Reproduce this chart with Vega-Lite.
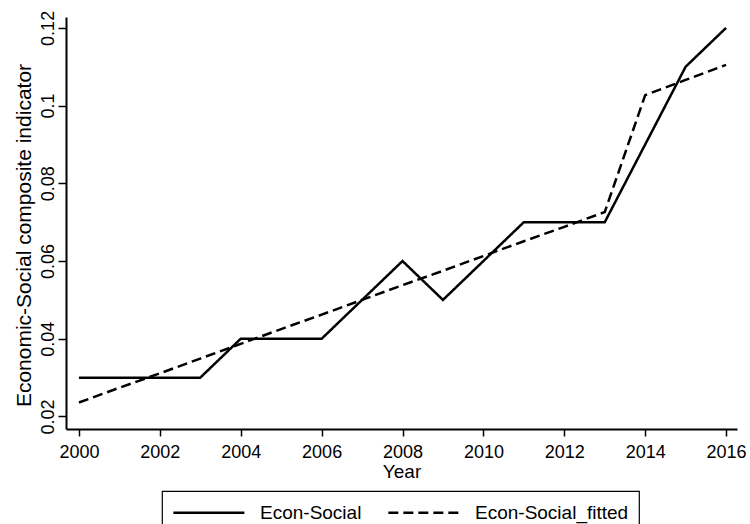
{
  "$schema": "https://vega.github.io/schema/vega-lite/v6.json",
  "width": 671,
  "height": 412,
  "autosize": "none",
  "padding": {"left": 66, "top": 17, "right": 13, "bottom": 95},
  "background": "white",
  "data": {
    "values": [
      {"series": "Econ-Social", "year": 2000, "value": 0.03},
      {"series": "Econ-Social", "year": 2001, "value": 0.03},
      {"series": "Econ-Social", "year": 2002, "value": 0.03},
      {"series": "Econ-Social", "year": 2003, "value": 0.03},
      {"series": "Econ-Social", "year": 2004, "value": 0.04},
      {"series": "Econ-Social", "year": 2005, "value": 0.04},
      {"series": "Econ-Social", "year": 2006, "value": 0.04},
      {"series": "Econ-Social", "year": 2007, "value": 0.05},
      {"series": "Econ-Social", "year": 2008, "value": 0.06},
      {"series": "Econ-Social", "year": 2009, "value": 0.05},
      {"series": "Econ-Social", "year": 2010, "value": 0.06},
      {"series": "Econ-Social", "year": 2011, "value": 0.07},
      {"series": "Econ-Social", "year": 2012, "value": 0.07},
      {"series": "Econ-Social", "year": 2013, "value": 0.07},
      {"series": "Econ-Social", "year": 2014, "value": 0.09},
      {"series": "Econ-Social", "year": 2015, "value": 0.11},
      {"series": "Econ-Social", "year": 2016, "value": 0.12},
      {"series": "Econ-Social_fitted", "year": 2000, "value": 0.0236},
      {"series": "Econ-Social_fitted", "year": 2001, "value": 0.0274},
      {"series": "Econ-Social_fitted", "year": 2002, "value": 0.0311},
      {"series": "Econ-Social_fitted", "year": 2003, "value": 0.0349},
      {"series": "Econ-Social_fitted", "year": 2004, "value": 0.0387},
      {"series": "Econ-Social_fitted", "year": 2005, "value": 0.0425},
      {"series": "Econ-Social_fitted", "year": 2006, "value": 0.0462},
      {"series": "Econ-Social_fitted", "year": 2007, "value": 0.05},
      {"series": "Econ-Social_fitted", "year": 2008, "value": 0.0538},
      {"series": "Econ-Social_fitted", "year": 2009, "value": 0.0575},
      {"series": "Econ-Social_fitted", "year": 2010, "value": 0.0613},
      {"series": "Econ-Social_fitted", "year": 2011, "value": 0.0651},
      {"series": "Econ-Social_fitted", "year": 2012, "value": 0.0688},
      {"series": "Econ-Social_fitted", "year": 2013, "value": 0.0726},
      {"series": "Econ-Social_fitted", "year": 2014, "value": 0.1027},
      {"series": "Econ-Social_fitted", "year": 2015, "value": 0.1066},
      {"series": "Econ-Social_fitted", "year": 2016, "value": 0.1105}
    ]
  },
  "mark": {"type": "line", "strokeWidth": 2.5, "clip": false},
  "encoding": {
    "x": {
      "field": "year",
      "type": "quantitative",
      "scale": {"domain": [1999.68, 2016.27], "nice": false, "zero": false},
      "axis": {
        "values": [2000, 2002, 2004, 2006, 2008, 2010, 2012, 2014, 2016],
        "format": "d",
        "tickSize": 7,
        "labelPadding": 7,
        "labelFontSize": 18,
        "labelFlush": false,
        "title": "Year",
        "titleFontSize": 19,
        "titleY": 48,
        "titleBaseline": "alphabetic"
      }
    },
    "y": {
      "field": "value",
      "type": "quantitative",
      "scale": {"domain": [0.01678, 0.1228], "nice": false, "zero": false},
      "axis": {
        "values": [0.02, 0.04, 0.06, 0.08, 0.1, 0.12],
        "format": "~g",
        "labelAngle": -90,
        "labelAlign": "center",
        "labelBaseline": "alphabetic",
        "tickSize": 8,
        "labelPadding": 5,
        "labelFontSize": 18,
        "title": "Economic-Social composite indicator",
        "titleFontSize": 21,
        "titleAngle": -90,
        "titleX": -36,
        "titleY": 218,
        "titleAlign": "center",
        "titleBaseline": "alphabetic"
      }
    },
    "color": {
      "field": "series",
      "type": "nominal",
      "scale": {"range": ["black", "black"]},
      "legend": {
        "title": null,
        "orient": "none",
        "legendX": 96,
        "legendY": 474,
        "direction": "horizontal",
        "columns": 2,
        "symbolType": "M-1,0H6",
        "symbolSize": 412,
        "symbolStrokeWidth": 2.5,
        "labelFontSize": 19,
        "labelOffset": 65,
        "columnPadding": 21,
        "padding": 10,
        "strokeColor": "black"
      }
    },
    "strokeDash": {
      "field": "series",
      "type": "nominal",
      "scale": {"range": [[1, 0], [10, 5]]},
      "legend": {
        "title": null,
        "orient": "none",
        "legendX": 96,
        "legendY": 474,
        "direction": "horizontal",
        "columns": 2,
        "symbolType": "M-1,0H6",
        "symbolSize": 412,
        "symbolStrokeWidth": 2.5,
        "labelFontSize": 19,
        "labelOffset": 65,
        "columnPadding": 21,
        "padding": 10,
        "strokeColor": "black"
      }
    }
  },
  "config": {
    "view": {"stroke": null},
    "font": "Liberation Sans",
    "axis": {
      "grid": false,
      "domainColor": "black",
      "domainWidth": 2,
      "tickColor": "black",
      "tickWidth": 1.5,
      "labelColor": "black",
      "titleColor": "black",
      "titleFontWeight": "normal"
    },
    "legend": {
      "labelColor": "black",
      "strokeWidth": 1.2,
      "symbolStrokeColor": "black"
    }
  }
}
